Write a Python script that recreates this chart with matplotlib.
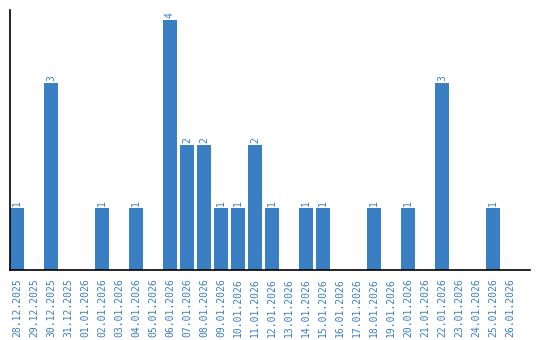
import matplotlib
matplotlib.use("Agg")
import matplotlib.pyplot as plt

dates = ["28.12.2025", "29.12.2025", "30.12.2025", "31.12.2025", "01.01.2026",
         "02.01.2026", "03.01.2026", "04.01.2026", "05.01.2026", "06.01.2026",
         "07.01.2026", "08.01.2026", "09.01.2026", "10.01.2026", "11.01.2026",
         "12.01.2026", "13.01.2026", "14.01.2026", "15.01.2026", "16.01.2026",
         "17.01.2026", "18.01.2026", "19.01.2026", "20.01.2026", "21.01.2026",
         "22.01.2026", "23.01.2026", "24.01.2026", "25.01.2026", "26.01.2026"]
counts = [1, 0, 3, 0, 0, 1, 0, 1, 0, 4, 2, 2, 1, 1, 2, 1, 0, 1, 1, 0,
          0, 1, 0, 1, 0, 3, 0, 0, 1, 0]

color = "#3a7fc4"
fig = plt.figure(figsize=(5.4, 3.4), dpi=100)
ax = fig.add_axes([10/540, 70/340, 520/540, 260/340])
x = list(range(len(dates)))
ax.bar(x, counts, width=0.82, color=color)
for xi, v in zip(x, counts):
    if v > 0:
        ax.text(xi, v + 0.03, str(v), rotation=90, ha="center", va="bottom",
                color=color, fontsize=7, family="DejaVu Sans Mono")
ax.set_xlim(-0.41, 30.18)
ax.set_ylim(0, 4.16)
ax.set_xticks(x)
ax.set_xticklabels(dates, rotation=90, color=color, fontsize=7, family="DejaVu Sans Mono")
ax.tick_params(axis="x", length=0, pad=6)
ax.set_yticks([])
for s in ["top", "right"]:
    ax.spines[s].set_visible(False)
ax.spines["left"].set_linewidth(1.2)
ax.spines["bottom"].set_linewidth(1.2)
fig.savefig("out.png", dpi=100)
